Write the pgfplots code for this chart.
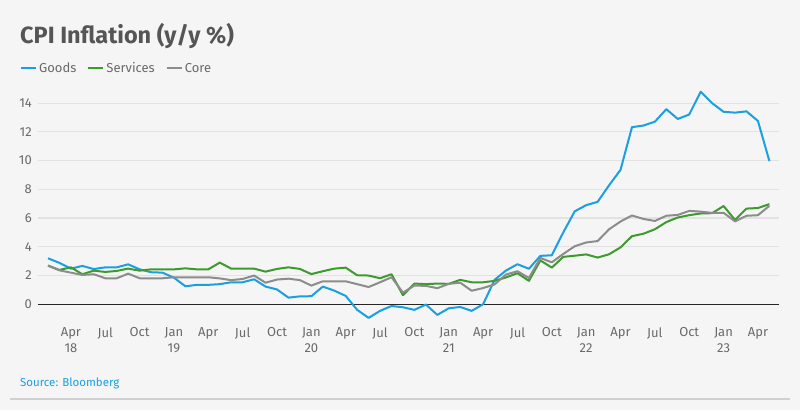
\documentclass[border=0pt]{standalone}
\usepackage{fontspec}
\setmainfont{Fira Sans}
\usepackage{pgfplots}
\usepackage{pgfplotstable}
\pgfplotsset{compat=1.18}
\usetikzlibrary{backgrounds}

\definecolor{bg}{HTML}{F5F5F5}
\definecolor{goods}{HTML}{1A9FE0}
\definecolor{services}{HTML}{3D9A2E}
\definecolor{core}{HTML}{8C8C8C}
\definecolor{titletxt}{HTML}{555555}
\definecolor{ticktxt}{HTML}{6A6A6A}
\definecolor{gridc}{HTML}{E2E2E2}
\definecolor{rule}{HTML}{D0D0D0}

% month index: 1 = first observation, ticks every 3 months
\pgfplotstableread{
m  goods services core
1  3.20  2.69  2.69
2  2.88  2.39  2.36
3  2.48  2.57  2.20
4  2.67  2.09  2.04
5  2.45  2.34  2.09
6  2.57  2.25  1.81
7  2.57  2.32  1.81
8  2.78  2.48  2.13
9  2.43  2.34  1.81
10 2.23  2.43  1.81
11 2.20  2.43  1.81
12 1.85  2.43  1.88
13 1.25  2.50  1.88
14 1.35  2.43  1.88
15 1.35  2.43  1.88
16 1.40  2.90  1.80
17 1.53  2.48  1.68
18 1.53  2.48  1.76
19 1.74  2.48  2.00
20 1.23  2.27  1.50
21 1.03  2.46  1.72
22 0.46  2.57  1.78
23 0.55  2.46  1.68
24 0.56  2.10  1.30
25 1.23  2.30  1.60
26 0.95  2.48  1.60
27 0.58  2.55  1.60
28 -0.39 2.02  1.40
29 -0.95 2.00  1.20
30 -0.46 1.81  1.53
31 -0.12 2.09  1.88
32 -0.21 0.63  0.81
33 -0.39 1.44  1.30
34 -0.02 1.40  1.28
35 -0.74 1.44  1.12
36 -0.28 1.42  1.42
37 -0.19 1.70  1.50
38 -0.46 1.53  0.94
39 0.00  1.53  1.13
40 1.70  1.63  1.38
41 2.35  1.87  2.07
42 2.79  2.16  2.30
43 2.47  1.63  1.83
44 3.37  3.05  3.22
45 3.41  2.55  2.92
46 5.00  3.30  3.50
47 6.47  3.38  4.04
48 6.90  3.47  4.30
49 7.13  3.25  4.40
50 8.28  3.48  5.22
51 9.36  3.96  5.76
52 12.33 4.74  6.18
53 12.44 4.91  5.94
54 12.71 5.22  5.80
55 13.58 5.72  6.16
56 12.90 6.04  6.22
57 13.21 6.20  6.50
58 14.80 6.32  6.45
59 14.00 6.34  6.36
60 13.40 6.84  6.37
61 13.34 5.87  5.77
62 13.43 6.66  6.16
63 12.76 6.70  6.20
64 9.97  6.97  6.85
}\cpidata

\begin{document}
\begin{tikzpicture}[x=1pt,y=1pt]

\begin{axis}[
  at={(38pt,84.2pt)}, anchor=south west,
  scale only axis, width=741pt, height=237pt,
  xmin=0.127, xmax=64.84, ymin=-1.5, ymax=15,
  axis line style={draw=none},
  major tick length=0pt,
  ytick={0,2,...,14},
  ymajorgrids, grid style={gridc, line width=1.2pt},
  extra y ticks={0}, extra y tick labels={},
  extra y tick style={grid style={black!85, line width=1.1pt}},
  xtick={3,6,...,63},
  xticklabels={{Apr\\18},Jul,Oct,{Jan\\19},Apr,Jul,Oct,{Jan\\20},Apr,Jul,Oct,
               {Jan\\21},Apr,Jul,Oct,{Jan\\22},Apr,Jul,Oct,{Jan\\23},Apr},
  xticklabel style={align=center, anchor=north, inner sep=0pt, yshift=-1.5pt,
                    font=\fontsize{13}{16}\selectfont, text=ticktxt},
  yticklabel style={anchor=east, inner sep=0pt, xshift=-6pt,
                    font=\fontsize{13}{16}\selectfont, text=ticktxt},
  /pgf/number format/assume math mode=true,
  legend columns=-1,
  legend style={at={(-0.0243,1.0857)}, anchor=west, draw=none, fill=none,
                inner sep=0pt, font=\fontsize{13}{15}\selectfont, text=ticktxt,
                /tikz/every even column/.append style={column sep=9pt}},
  legend image code/.code={\draw[#1] (0pt,0pt) -- (15pt,0pt);},
  every axis plot/.append style={line width=2pt, line join=round},
]
\addplot[goods] table[x=m, y=goods] {\cpidata};
\addlegendentry{Goods}
\addplot[services] table[x=m, y=services] {\cpidata};
\addlegendentry{Services}
\addplot[core] table[x=m, y=core] {\cpidata};
\addlegendentry{Core}
\end{axis}

\node[anchor=base west, inner sep=0pt, text=titletxt,
      font=\fontsize{23.5}{28}\selectfont\bfseries] at (20,366.7) {CPI Inflation (y/y \%)};
\node[anchor=base west, inner sep=0pt, text=goods,
      font=\fontsize{11.5}{14}\selectfont] at (20,23.3) {Source: Bloomberg};
\draw[rule, line width=1.2pt] (10,11) -- (790,11);

\begin{scope}[on background layer]
  \fill[bg] (0,0) rectangle (800,410);
\end{scope}
\pgfresetboundingbox
\path[use as bounding box] (0,0) rectangle (800,410);
\end{tikzpicture}
\end{document}
